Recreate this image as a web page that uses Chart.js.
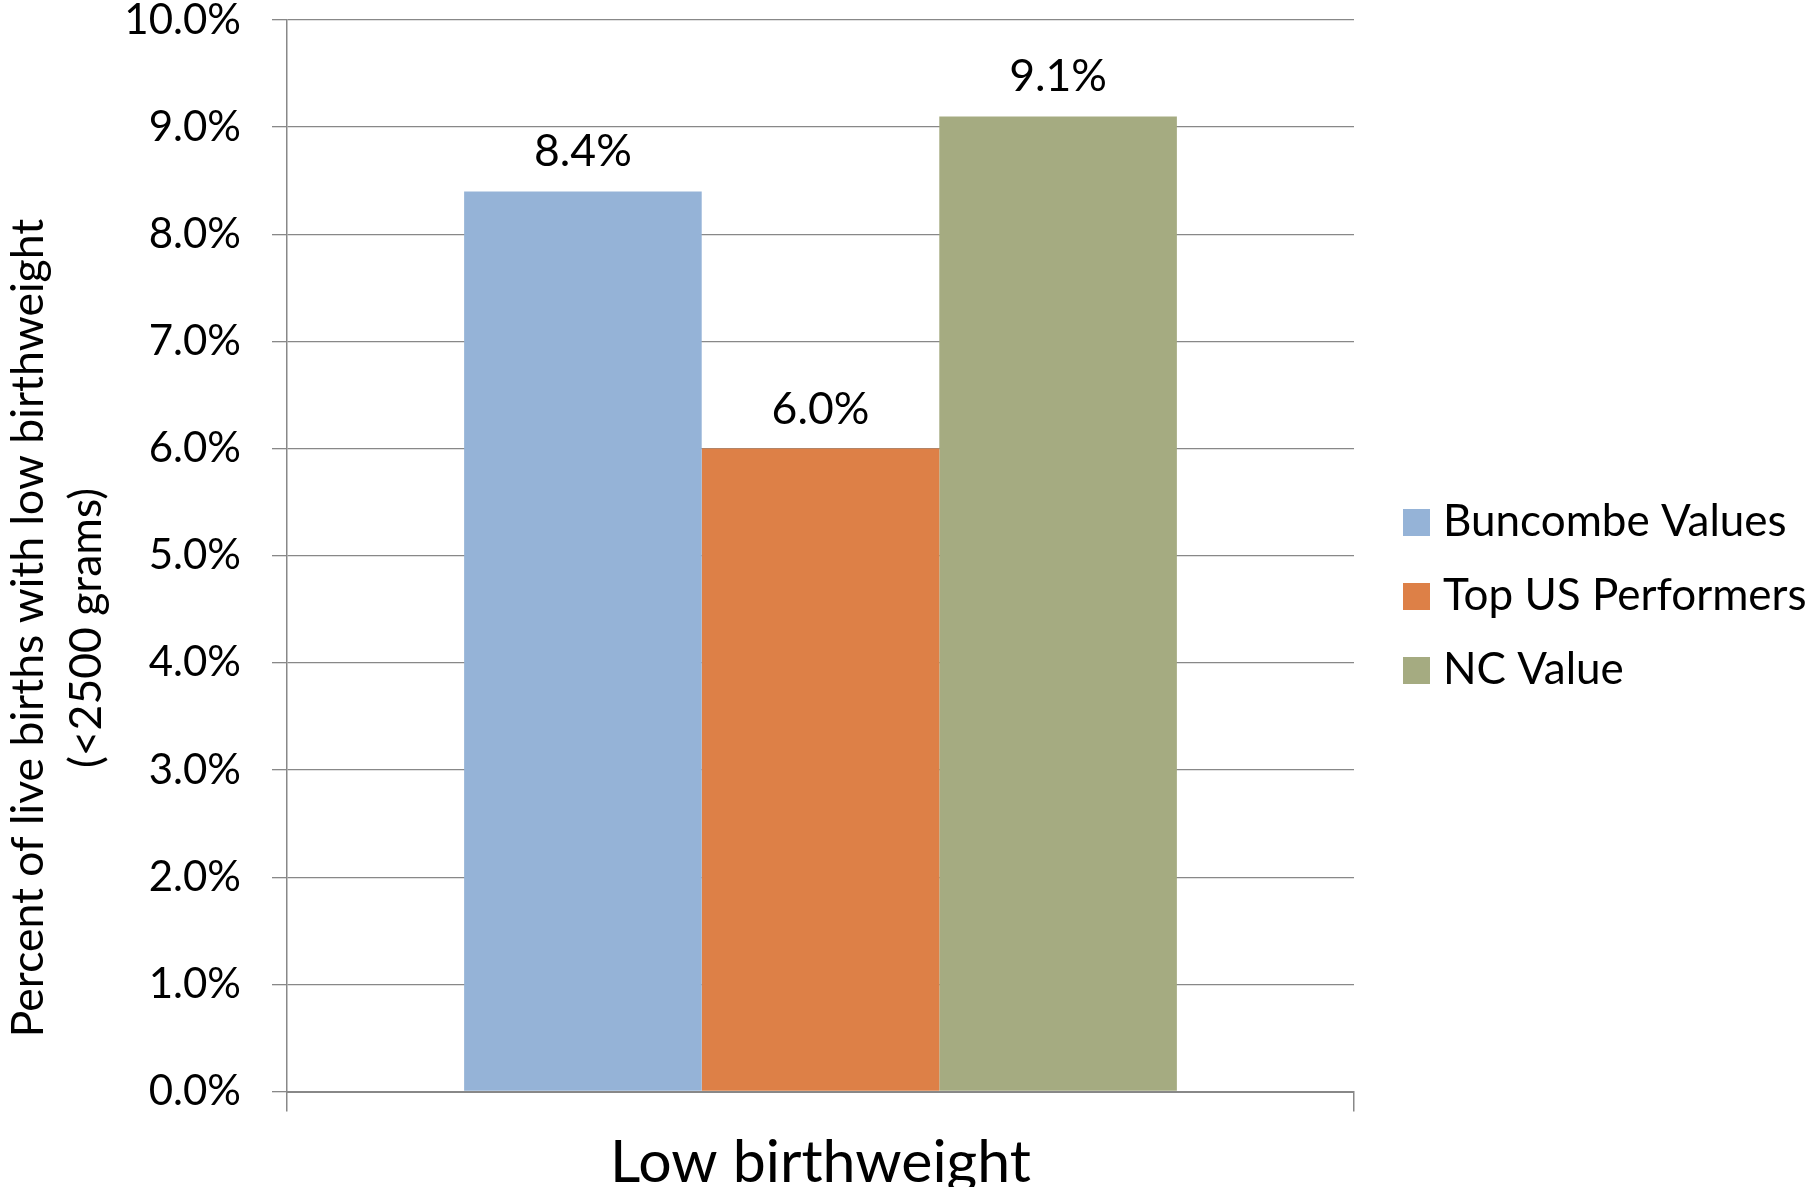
<!DOCTYPE html>
<html>
<head>
<meta charset="utf-8">
<title>Low birthweight</title>
<script src="https://cdn.jsdelivr.net/npm/chart.js@4.4.1/dist/chart.umd.min.js"></script>
<style>
  html, body { margin: 0; padding: 0; background: #fff; overflow: hidden; }
  #wrap { width: 1812px; height: 1187px; }
</style>
</head>
<body>
<div id="wrap"><canvas id="chart" width="1812" height="1187"></canvas></div>
<script>
// ------------------------------------------------------------
// Data
// ------------------------------------------------------------
const categories = ['Low birthweight'];
const seriesLabels = ['Buncombe Values', 'Top US Performers', 'NC Value'];
const buncombeValues = [8.4];
const topUSValues = [6.0];
const ncValues = [9.1];
const yTitleLines = ['Percent of live births with low birthweight', '(<2500 grams)'];
const yMin = 0;
const yMax = 10;
const yStep = 1;

// ------------------------------------------------------------
// Styles
// ------------------------------------------------------------
const seriesColors = ['#95B3D7', '#DD8047', '#A5AB81'];
const gridColor = '#888888';
const fontFamily = 'Lato, "Open Sans", sans-serif';

// value labels above each bar
const barLabels = {
  id: 'barLabels',
  afterDatasetsDraw(chart) {
    const ctx = chart.ctx;
    ctx.save();
    ctx.font = `44.5px ${fontFamily}`;
    ctx.fillStyle = '#000';
    ctx.textAlign = 'center';
    ctx.textBaseline = 'alphabetic';
    chart.data.datasets.forEach((ds, i) => {
      chart.getDatasetMeta(i).data.forEach((bar, j) => {
        ctx.fillText(ds.data[j].toFixed(1) + '%', bar.x, bar.y - 25);
      });
    });
    ctx.restore();
  }
};

// legend drawn to the right of the plot
const sideLegend = {
  id: 'sideLegend',
  afterDraw(chart) {
    const ctx = chart.ctx;
    ctx.save();
    ctx.font = `44px ${fontFamily}`;
    ctx.textAlign = 'left';
    ctx.textBaseline = 'alphabetic';
    chart.data.datasets.forEach((ds, i) => {
      const top = 509 + i * 74;
      ctx.fillStyle = ds.backgroundColor;
      ctx.fillRect(1403, top, 27, 27);
      ctx.fillStyle = '#000';
      ctx.fillText(ds.label, 1443, top + 27);
    });
    ctx.restore();
  }
};

// two-line rotated axis title
const yTitle = {
  id: 'yTitle',
  afterDraw(chart) {
    const ctx = chart.ctx;
    ctx.save();
    ctx.font = `44.5px ${fontFamily}`;
    ctx.fillStyle = '#000';
    ctx.textAlign = 'center';
    ctx.textBaseline = 'alphabetic';
    yTitleLines.forEach((line, i) => {
      ctx.save();
      ctx.translate(43 + i * 58, 628);
      ctx.rotate(-Math.PI / 2);
      ctx.fillText(line, 0, 0);
      ctx.restore();
    });
    ctx.restore();
  }
};

new Chart(document.getElementById('chart'), {
  type: 'bar',
  data: {
    labels: categories,
    datasets: [
      { label: seriesLabels[0], data: buncombeValues, backgroundColor: seriesColors[0] },
      { label: seriesLabels[1], data: topUSValues, backgroundColor: seriesColors[1] },
      { label: seriesLabels[2], data: ncValues, backgroundColor: seriesColors[2] }
    ]
  },
  options: {
    responsive: false,
    animation: false,
    datasets: {
      bar: { categoryPercentage: 0.668, barPercentage: 1, borderWidth: 0 }
    },
    layout: { padding: { top: 20, right: 458, bottom: 0, left: 0 } },
    plugins: {
      legend: { display: false },
      tooltip: { enabled: false }
    },
    scales: {
      x: {
        grid: { display: true, drawOnChartArea: false, tickLength: 20, color: gridColor, lineWidth: 1.5 },
        border: { display: true, color: gridColor, width: 2 },
        ticks: { color: '#000', padding: 16, font: { family: fontFamily, size: 59, lineHeight: 1.2 } },
        afterFit: (scale) => { scale.height = 95.5; }
      },
      y: {
        min: yMin,
        max: yMax,
        grid: { color: gridColor, lineWidth: 1.3, tickLength: 15 },
        border: { display: true, color: gridColor, width: 1.5 },
        ticks: {
          stepSize: yStep,
          color: '#000',
          padding: 31,
          font: { family: fontFamily, size: 42, lineHeight: 1 },
          callback: (v) => v.toFixed(1) + '%'
        },
        afterFit: (scale) => {
          scale.width = 287;
          scale.paddingTop = 0;
          scale.paddingBottom = 0;
        }
      }
    }
  },
  plugins: [barLabels, sideLegend, yTitle]
});
</script>
</body>
</html>
